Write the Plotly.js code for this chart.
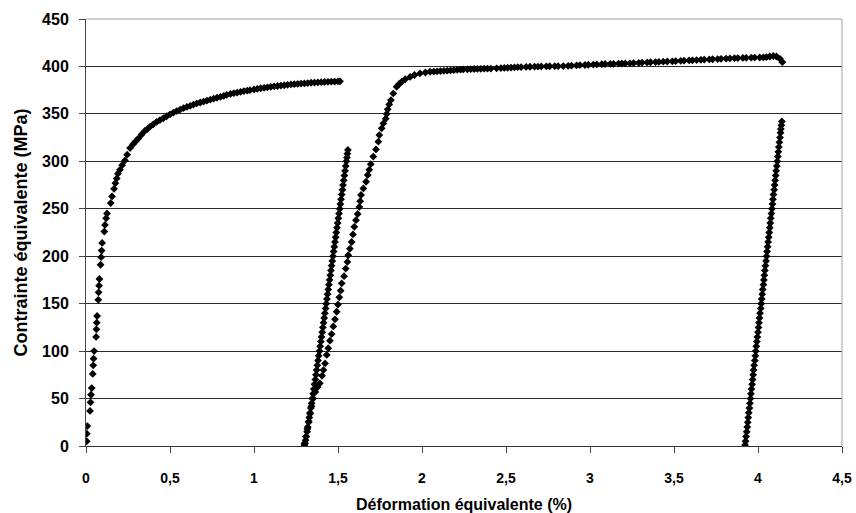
<!DOCTYPE html>
<html>
<head>
<meta charset="utf-8">
<script src="https://cdn.plot.ly/plotly-3.0.1.min.js"></script>
<style>html,body{margin:0;padding:0;background:#fff;}#chart{width:856px;height:513px;}</style>
</head>
<body>
<div id="chart"></div>
<script>
// First loading
const load1X = [0.004,0.005,0.008,0.024,0.027,0.030,0.034,0.040,0.043,0.045,0.048,0.060,0.062,0.064,0.066,0.073,0.075,0.078,0.080,0.087,0.090,0.093,0.096,0.109,0.113,0.120,0.125,0.147,0.155,0.167,0.175,0.183,0.190,0.202,0.215,0.232,0.245,0.262,0.280,0.295,0.311,0.330,0.350,0.365,0.381,0.400,0.420,0.440,0.460,0.480,0.500,0.520,0.540,0.560,0.580,0.600,0.620,0.640,0.659,0.680,0.700,0.720,0.740,0.760,0.780,0.800,0.820,0.837,0.860,0.880,0.900,0.920,0.940,0.960,0.976,1.000,1.020,1.040,1.060,1.080,1.100,1.120,1.140,1.160,1.180,1.200,1.220,1.240,1.260,1.280,1.300,1.320,1.340,1.360,1.380,1.400,1.420,1.440,1.460,1.480,1.500,1.512];
const load1Y = [5,13,21,37,46,54,61,76,85,92,100,115,123,130,137,154,162,169,176,191,199,206,214,226,233,240,245,256,263,271,277,282,287,291,296,301,307,314,318,321,324,328,332,334,336.5,339,341.5,343.5,345.4,347.5,349.5,351.3,353,354.5,356,357.3,358.5,359.8,361,362,363,364,365,366,367,368,369,370,371,371.8,372.5,373.2,374,374.6,375,375.8,376.4,377,377.5,378,378.5,379,379.4,379.8,380.2,380.6,381,381.3,381.6,381.9,382.2,382.5,382.8,383,383.2,383.4,383.6,383.8,384,384.1,384.2,384.3];

// First unloading
const unload1X = [1.559,1.556,1.553,1.550,1.546,1.542,1.538,1.534,1.530,1.526,1.522,1.518,1.514,1.510,1.506,1.502,1.498,1.494,1.490,1.486,1.482,1.478,1.474,1.470,1.466,1.462,1.458,1.454,1.450,1.446,1.442,1.438,1.434,1.430,1.426,1.422,1.418,1.414,1.410,1.406,1.402,1.398,1.394,1.390,1.385,1.381,1.377,1.373,1.369,1.365,1.360,1.356,1.352,1.347,1.343,1.338,1.334,1.329,1.325,1.320,1.316,1.311,1.307,1.303,1.300];
const unload1Y = [312,308,304,300,295,290,285,280,275,270,265,260,255,250,245,240,235,230,225,220,215,210,205,200,195,190,185,180,175,170,165,160,155,150,145,140,135,130,125,120,115,110,105,100,95,90,85,80,75,70,65,60,55,50,45,40,35,30,25,20,15,10,6,3,1];

// Reloading
const reloadX = [1.302,1.310,1.318,1.326,1.334,1.342,1.352,1.365,1.378,1.392,1.405,1.413,1.423,1.433,1.442,1.452,1.462,1.472,1.482,1.492,1.500,1.508,1.516,1.522,1.536,1.546,1.556,1.561,1.571,1.581,1.589,1.597,1.607,1.617,1.627,1.632,1.637,1.651,1.667,1.677,1.686,1.695,1.710,1.726,1.740,1.746,1.760,1.770,1.784,1.790,1.796,1.805,1.815,1.829,1.849,1.864,1.879,1.900,1.929,1.955,1.988,2.020,2.048,2.070,2.090,2.110,2.130,2.150,2.170,2.190,2.210,2.230,2.246,2.270,2.290,2.310,2.330,2.350,2.370,2.390,2.410,2.444,2.470,2.490,2.510,2.530,2.550,2.570,2.590,2.620,2.643,2.670,2.690,2.710,2.740,2.760,2.790,2.810,2.841,2.870,2.890,2.920,2.940,2.970,2.990,3.020,3.040,3.070,3.090,3.120,3.140,3.170,3.190,3.210,3.238,3.260,3.290,3.310,3.340,3.360,3.390,3.410,3.436,3.460,3.490,3.510,3.540,3.560,3.590,3.610,3.635,3.660,3.680,3.710,3.730,3.760,3.780,3.810,3.833,3.860,3.880,3.910,3.930,3.960,3.980,4.010,4.032,4.050,4.070,4.091,4.110,4.131,4.145];
const reloadY = [3,10,18,26,34,42,50,57,62,66,74,80,87,96,103,111,118,126,133.5,141.5,149,156.7,163.7,171.4,179,187,194,201,208,215,223,231,238,244.5,252,258,264.5,271.5,278.5,285.6,291,297,305,312.6,320.7,327.7,334.8,340,345,350,354.8,360,364.6,371.6,378.6,381.5,384,386.5,389,391,392.6,393.6,394.4,394.6,394.9,395.1,395.3,395.5,395.8,396.1,396.4,396.6,396.9,397,397.2,397.3,397.4,397.5,397.6,397.7,397.8,398,398.2,398.4,398.6,398.8,399,399.2,399.3,399.5,399.7,399.8,399.9,400,400.1,400.2,400.3,400.3,400.4,400.6,400.8,401.1,401.3,401.5,401.8,402,402.2,402.4,402.6,402.7,402.8,403,403.1,403.2,403.3,403.5,403.7,404,404.2,404.4,404.6,404.8,405,405.2,405.4,405.6,405.9,406.1,406.3,406.5,406.7,407,407.2,407.4,407.6,407.8,408,408.3,408.5,408.7,408.8,409,409.1,409.2,409.3,409.4,409.5,409.8,410.5,411,410.5,408,404.5];

// Second unloading
const unload2X = [4.142,4.139,4.136,4.134,4.131,4.127,4.124,4.121,4.118,4.115,4.112,4.108,4.105,4.102,4.099,4.096,4.092,4.089,4.086,4.083,4.080,4.076,4.073,4.070,4.067,4.064,4.060,4.057,4.054,4.051,4.048,4.044,4.041,4.038,4.035,4.032,4.028,4.025,4.022,4.019,4.016,4.012,4.009,4.006,4.003,4.000,3.996,3.993,3.990,3.987,3.984,3.981,3.977,3.974,3.971,3.968,3.965,3.961,3.958,3.955,3.952,3.949,3.945,3.942,3.939,3.936,3.933,3.929,3.926,3.923];
const unload2Y = [342,338,334,330,325,320,315,310,305,300,295,290,285,280,275,270,265,260,255,250,245,240,235,230,225,220,215,210,205,200,195,190,185,180,175,170,165,160,155,150,145,140,135,130,125,120,115,110,105,100,95,90,85,80,75,70,65,60,55,50,45,40,35,30,25,20,15,10,5,1];

const xTickVals = [0,0.5,1,1.5,2,2.5,3,3.5,4,4.5];
const xTickText = ['0','0,5','1','1,5','2','2,5','3','3,5','4','4,5'];
const yTickVals = [0,50,100,150,200,250,300,350,400,450];
const yTickText = ['0','50','100','150','200','250','300','350','400','450'];

const xTitle = 'Déformation équivalente (%)';
const yTitle = 'Contrainte équivalente (MPa)';

const marker = {symbol:'diamond', size:6, color:'#000', line:{width:0}};
function seg(x,y,name){return {x:x,y:y,type:'scatter',mode:'markers',marker:marker,name:name,showlegend:false,hoverinfo:'x+y'};}
const bold = t => '<b>' + t + '</b>';

const data = [
  seg(load1X,load1Y,'Chargement 1'),
  seg(unload1X,unload1Y,'Déchargement 1'),
  seg(reloadX,reloadY,'Rechargement'),
  seg(unload2X,unload2Y,'Déchargement 2')
];

const fam = 'Liberation Sans, Arial, sans-serif';

const layout = {
  width:856, height:513,
  margin:{l:86, r:14, t:19, b:67, pad:0},
  paper_bgcolor:'#fff', plot_bgcolor:'#fff',
  showlegend:false,
  xaxis:{
    range:[0,4.5], tickmode:'array', tickvals:xTickVals, ticktext:xTickText.map(bold),
    ticks:'outside', ticklen:6, tickcolor:'#444', tickwidth:1,
    showline:true, linecolor:'#333', linewidth:1,
    showgrid:false, zeroline:false, ticklabelstandoff:13,
    tickfont:{family:fam, size:14, color:'#000', weight:700},
    title:{text:xTitle, font:{family:fam, size:16, color:'#000', weight:700}, standoff:14}
  },
  yaxis:{
    range:[0,450], tickmode:'array', tickvals:yTickVals, ticktext:yTickText.map(bold),
    ticks:'outside', ticklen:6, tickcolor:'#444', tickwidth:1,
    showline:true, linecolor:'#444', linewidth:1,
    showgrid:true, gridcolor:'#2a2a2a', gridwidth:1, zeroline:false, ticklabelstandoff:7,
    tickfont:{family:fam, size:16, color:'#000', weight:700},
    title:{text:yTitle, font:{family:fam, size:18, color:'#000', weight:700}, standoff:9}
  },
  shapes:[
    {type:'line', xref:'paper', yref:'paper', x0:0, x1:1, y0:1, y1:1, line:{color:'#a0a0a0', width:1}, layer:'above'},
    {type:'line', xref:'paper', yref:'paper', x0:1, x1:1, y0:0, y1:1, line:{color:'#a0a0a0', width:1}, layer:'above'}
  ]
};

Plotly.newPlot('chart', data, layout, {displayModeBar:false, staticPlot:true});
</script>
</body>
</html>
